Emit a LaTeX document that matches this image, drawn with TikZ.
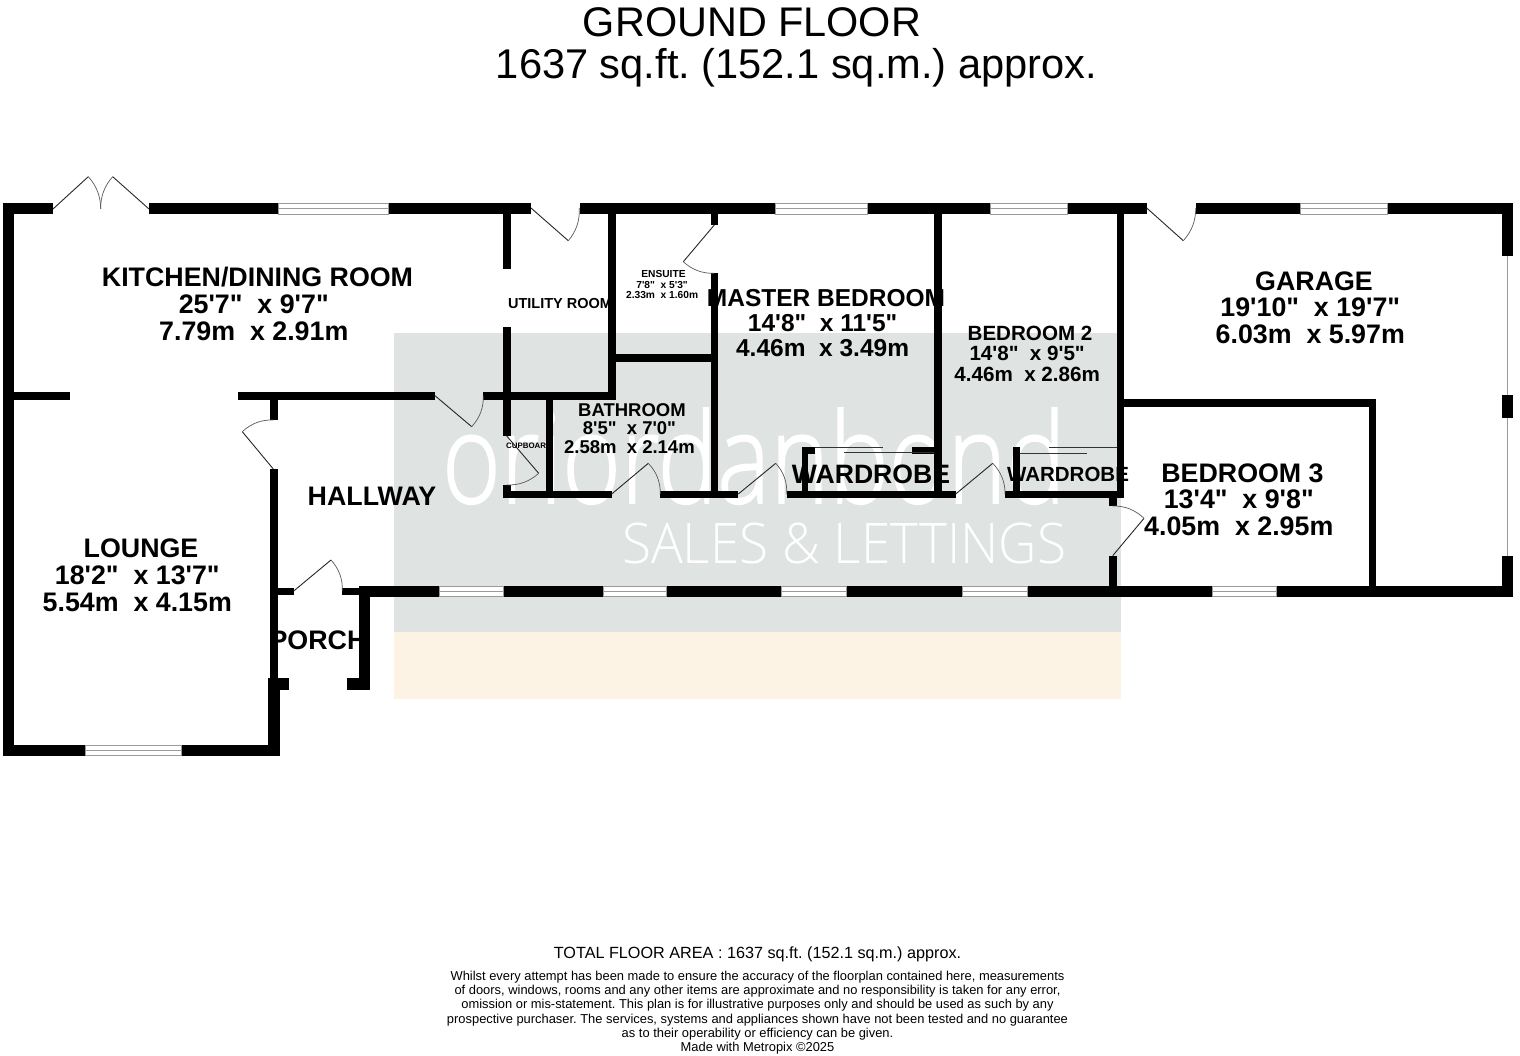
\documentclass[tikz,border=0pt]{standalone}
\usepackage{fontspec}
\usetikzlibrary{calc}
\newfontfamily\labfont{Liberation Sans}
\newfontfamily\wmfont[UprightFont=* Light]{Open Sans}
\newfontfamily\wmheavy[UprightFont=* Light,UprightFeatures={FakeBold=1.5}]{Open Sans}
\frenchspacing
\definecolor{wmgrey}{HTML}{DFE3E1}
\definecolor{wmpeach}{HTML}{FDF3E4}
\definecolor{winline}{HTML}{9A9A9A}
\newcommand{\tsp}{\hspace*{.278em}\mbox{}}
\newcommand{\wallrect}[4]{\fill[wall] (#1,#2) rectangle (#3,#4);}
\newcommand{\winrect}[4]{%
  \fill[white] (#1,#2) rectangle (#3,#4);
  \draw[winframe] (#1,#2) rectangle (#3,#4);
  \draw[winframe] (#1,{(#2+#4)/2}) -- (#3,{(#2+#4)/2});}
\newcommand{\doorswing}[3]{%
  \draw[doorleaf] (#1) -- (#2);
  \coordinate (dq) at ($(#1)!1.15!($(#2)!.5!(#3)$)$);
  \draw[doorarc] (#2) .. controls ($(#2)!.667!(dq)$) and ($(#3)!.667!(dq)$) .. (#3);}
\tikzset{
  wall/.style={black},
  winframe/.style={winline,line width=.9pt},
  doorleaf/.style={black!85,line width=.9pt},
  doorarc/.style={black!65,line width=.7pt},
  slider/.style={black!80,line width=.9pt},
  roomtxt/.style={font=\labfont\bfseries\fontsize{#1}{#1}\selectfont,align=center,text=black,inner sep=0pt},
  roomlines/.style 2 args={font=\labfont\bfseries\fontsize{#1}{#2}\selectfont,align=center,text=black,inner sep=0pt},
  plaintxt/.style={font=\labfont\fontsize{#1}{#1}\selectfont,text=black,inner sep=0pt,align=center},
  wmark/.style={text=white,inner sep=0pt}
}
\begin{document}
\begin{tikzpicture}[x=1pt,y=-1pt]
\useasboundingbox (0,0) rectangle (1520,1056);
% watermark
\fill[wmgrey] (394,333) rectangle (1121,632);
\fill[wmpeach] (394,632) rectangle (1121,699);
\node[wmark,font=\wmheavy\fontsize{125}{125}\selectfont,xscale=.80,anchor=base west] (wmone) at (442,503) {oriordanbond};
\node[wmark,font=\wmfont\fontsize{56}{56}\selectfont,xscale=.948,anchor=base west] (wmtwo) at (622,563) {SALES \& LETTINGS};
% headings
\node[plaintxt=41.4] (titleone) at (752,22) {GROUND FLOOR};
\node[plaintxt=41.6] (titletwo) at (796.5,67.5) {1637 sq.ft. (152.1 sq.m.) approx.};
% room labels
\node[roomlines={26.8}{27}] (kitchen) at (257.5,304) {KITCHEN/DINING ROOM\\25'7"\ \ x 9'7"\tsp\\7.79m\ \ x 2.91m\tsp};
\node[roomlines={26.8}{27}] (lounge) at (141,575) {LOUNGE\\18'2"\ \ x 13'7"\tsp\\5.54m\ \ x 4.15m\tsp};
\node[roomtxt=26.8] (hallway) at (372,496) {HALLWAY};
\node[roomtxt=26.8] (porch) at (318,640) {PORCH};
\node[roomtxt=14.5] (utility) at (560,303.5) {UTILITY ROOM};
\node[roomtxt=7.9] (cupboard) at (529,445.5) {CUPBOARD};
\node[roomlines={10.2}{10.5}] (ensuite) at (663.5,284.5) {ENSUITE\\7'8"\ \ x 5'3"\tsp\\2.33m\ \ x 1.60m\tsp};
\node[roomlines={18.5}{18.5}] (bathroom) at (632,428.5) {BATHROOM\\8'5"\ \ x 7'0"\tsp\\2.58m\ \ x 2.14m\tsp};
\node[roomlines={24.5}{25}] (master) at (826,323) {MASTER BEDROOM\\14'8"\ \ x 11'5"\tsp\\4.46m\ \ x 3.49m\tsp};
\node[roomlines={20.6}{20.5}] (bedtwo) at (1030,353.5) {BEDROOM 2\\14'8"\ \ x 9'5"\tsp\\4.46m\ \ x 2.86m\tsp};
\node[roomlines={26.8}{26.5}] (garage) at (1314,307.5) {GARAGE\\19'10"\ \ x 19'7"\tsp\\6.03m\ \ x 5.97m\tsp};
\node[roomlines={26.8}{26.5}] (bedthree) at (1242.5,499.5) {BEDROOM 3\\13'4"\ \ x 9'8"\tsp\\4.05m\ \ x 2.95m\tsp};
\node[roomtxt=26.6] (wardone) at (871,474) {WARDROBE};
\node[roomtxt=20.5] (wardtwo) at (1068,474) {WARDROBE};
% footer
\node[plaintxt=16.2] (total) at (757.5,954) {TOTAL FLOOR AREA : 1637 sq.ft. (152.1 sq.m.) approx.};
\node[font=\labfont\fontsize{12.9}{14.2}\selectfont,align=center,inner sep=0pt,anchor=north] (disclaimer) at (757.5,971) {Whilst every attempt has been made to ensure the accuracy of the floorplan contained here, measurements\\of doors, windows, rooms and any other items are approximate and no responsibility is taken for any error,\\omission or mis-statement. This plan is for illustrative purposes only and should be used as such by any\\prospective purchaser. The services, systems and appliances shown have not been tested and no guarantee\\as to their operability or efficiency can be given.\\Made with Metropix \textcopyright 2025};
% garage door track first, so the posts lie over it
\draw[winframe] (1507,256.5) -- (1507,555.7);
% outer walls: top
\wallrect{3}{203}{53}{214.3}
\wallrect{149}{203}{278}{214.3}
\wallrect{388}{203}{531}{214.3}
\wallrect{580}{203}{775}{214.3}
\wallrect{867}{203}{990}{214.3}
\wallrect{1067}{203}{1147}{214.3}
\wallrect{1196}{203}{1300}{214.3}
\wallrect{1387}{203}{1513}{214.3}
% left wall
\wallrect{3}{203}{14.3}{756}
% lounge bottom
\wallrect{3}{745}{85}{756}
\wallrect{181}{745}{279.5}{756}
% kitchen / lounge / hall partition
\wallrect{14}{391.7}{70}{399.7}
\wallrect{238}{391.7}{435}{399.7}
\wallrect{483}{391.7}{616}{399.7}
% lounge / hall wall
\wallrect{270}{399}{277.7}{420}
\wallrect{270}{469}{277.7}{678}
\wallrect{268.3}{678}{279.5}{756}
\wallrect{268.3}{678}{289.3}{689.7}
\wallrect{277}{587.7}{293.7}{595}
\wallrect{342}{587.7}{359}{595}
% porch
\wallrect{358.7}{585.7}{370}{689.7}
\wallrect{347}{678}{370}{689.7}
% south wall
\wallrect{358.7}{585.7}{439}{597}
\wallrect{503}{585.7}{603}{597}
\wallrect{666}{585.7}{781}{597}
\wallrect{846}{585.7}{962}{597}
\wallrect{1027}{585.7}{1212}{597}
\wallrect{1276}{585.7}{1513}{597}
% utility / cupboard
\wallrect{503.3}{214}{511}{269}
\wallrect{503.3}{326.7}{511}{436}
\wallrect{503.3}{485}{511}{498.3}
\wallrect{546}{399}{553.3}{491}
\wallrect{608.3}{214}{616}{399.7}
% ensuite / bathroom
\wallrect{616}{354}{718}{362}
\wallrect{711}{214}{718}{225}
\wallrect{711}{273}{718}{491}
% hall north wall
\wallrect{503.3}{491}{611.7}{498.3}
\wallrect{660.3}{491}{738.3}{498.3}
\wallrect{787}{491}{955.7}{498.3}
\wallrect{1004.5}{491}{1124.3}{498.3}
% master / bedroom 2
\wallrect{934}{214}{941.7}{491}
% wardrobes
\wallrect{802}{446.7}{808.3}{491}
\wallrect{802}{446.7}{815}{454}
\wallrect{912}{446.7}{934}{454}
\wallrect{1013}{447}{1020}{491}
% bedroom 2 / garage
\wallrect{1117}{214}{1124.3}{498}
\wallrect{1109.3}{498}{1117}{506}
\wallrect{1109.3}{555.7}{1117}{586}
% bedroom 3
\wallrect{1124}{399}{1376}{406.7}
\wallrect{1369}{399}{1376}{586}
% garage east
\wallrect{1501.5}{203}{1513}{256.5}
\wallrect{1502}{395}{1513}{417.7}
\wallrect{1501.5}{555.7}{1513}{597}
% windows
\winrect{278}{203.5}{388}{214}
\winrect{775}{203.5}{867}{214}
\winrect{990}{203.5}{1067}{214}
\winrect{1300}{203.5}{1387}{214}
\winrect{85}{745.5}{181}{755.5}
\winrect{439}{586}{503}{596.5}
\winrect{603}{586}{666}{596.5}
\winrect{781}{586}{846}{596.5}
\winrect{962}{586}{1027}{596.5}
\winrect{1212}{586}{1276}{596.5}
% sliding wardrobe doors
\draw[slider] (815,447.7) -- (883,447.7);
\draw[slider] (844,452.7) -- (934,452.7);
\draw[slider] (1020,453) -- (1087,453);
\draw[slider] (1049,447.7) -- (1117,447.7);
% doors
\doorswing{53,209}{88.3,176.7}{100.7,209}
\doorswing{149,209}{112.7,176.7}{100.7,209}
\doorswing{531,208}{568.3,240.7}{579.3,208}
\doorswing{435,395.7}{471.7,426.7}{483.3,395.7}
\doorswing{273.3,469}{242.3,431.7}{273.3,420}
\doorswing{293.7,591}{331,560}{342.3,591}
\doorswing{714.3,225}{683.3,261.7}{714.3,273.3}
\doorswing{506.7,436}{538.7,473.3}{506.7,485}
\doorswing{611.7,494}{648.3,463.3}{660.3,494}
\doorswing{738.3,494}{775.7,463.3}{786.7,494}
\doorswing{955.7,494}{992.7,463.3}{1005,494}
\doorswing{1112.7,555.7}{1144,518.3}{1112.7,506}
\doorswing{1146.7,208}{1183.3,240.7}{1195.7,208}
\end{tikzpicture}
\end{document}
